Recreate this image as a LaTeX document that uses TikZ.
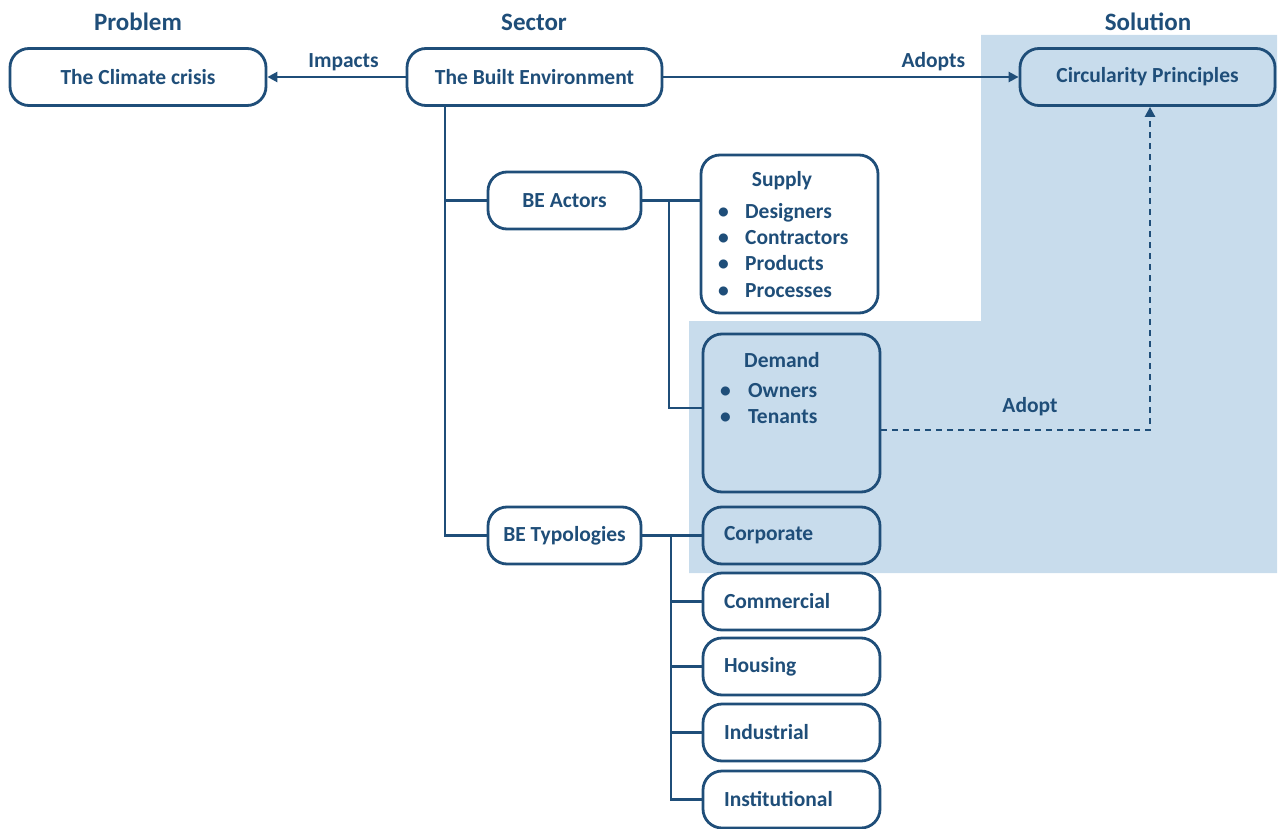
\documentclass[tikz,border=0pt]{standalone}
\usepackage{fontspec}
\setmainfont{Carlito}
\usetikzlibrary{arrows.meta}
\definecolor{navy}{HTML}{1F4E79}
\definecolor{paleblue}{HTML}{C8DCEC}
\begin{document}
\begin{tikzpicture}[x=1pt,y=-1pt,
  every node/.style={text=navy, font=\fontsize{21.5}{25}\selectfont\bfseries},
  box/.style={draw=navy, line width=2.8pt, rounded corners=19pt, inner sep=0pt},
  whitebox/.style={box, fill=white},
  typbox/.style={box, fill=white, text width=135pt, inner xsep=21pt, align=left, minimum height=57pt},
  head/.style={font=\fontsize{25}{29}\selectfont\bfseries},
  link/.style={draw=navy, line width=2.8pt},
  tip/.style={-{Triangle[length=10pt,width=10pt]}},
  dashlink/.style={link, line width=2.6pt, dash pattern=on 6pt off 5pt},
  itemtext/.style={anchor=base west, inner sep=0pt}
]
\useasboundingbox (0,0) rectangle (1284,829);

% shaded solution region
\fill[paleblue] (981,35) -- (1277,35) -- (1277,573) -- (689,573) -- (689,321) -- (981,321) -- cycle;

% column headings
\node[head] (hprob) at (138,22) {Problem};
\node[head] (hsect) at (534,22) {Sector};
\node[head] (hsol) at (1148,22) {Solution};

% top row
\node[whitebox, minimum width=256pt, minimum height=57pt] (cc) at (138,77) {The Climate crisis};
\node[whitebox, minimum width=255pt, minimum height=57pt] (be) at (534.5,77) {The Built Environment};
\node[box, minimum width=255pt, minimum height=57pt] (circ) at (1147.5,77) {Circularity Principles};

% second level
\node[whitebox, minimum width=153pt, minimum height=57pt] (actors) at (564.5,200.5) {BE Actors};
\node[whitebox, minimum width=153pt, minimum height=57pt] (typ) at (564.5,535.5) {BE Typologies};

% supply and demand
\node[whitebox, minimum width=177pt, minimum height=158pt] (supply) at (789.5,234) {};
\node (suptitle) at (782,181) {Supply};
\foreach \t [count=\i] in {Designers,Contractors,Products,Processes}
  \node[itemtext] (sup\i) at (718,192+26.3*\i) {\makebox[27pt][l]{\textbullet}\t};

\node[box, minimum width=177pt, minimum height=158pt] (demand) at (791.5,413) {};
\node (demtitle) at (782,360) {Demand};
\foreach \t [count=\i] in {Owners,Tenants}
  \node[itemtext] (dem\i) at (720,371+26*\i) {\makebox[28pt][l]{\textbullet}\t};

% typologies
\node[typbox, fill=none] (corp) at (791.5,535.5) {Corporate};
\node[typbox] (comm) at (791.5,601.5) {Commercial};
\node[typbox] (hous) at (791.5,666.5) {Housing};
\node[typbox] (indu) at (791.5,732.5) {Industrial};
\node[typbox] (inst) at (791.5,799.5) {Institutional};

% bus lines
\coordinate (trunk) at (445,0);
\coordinate (abus) at (669,0);
\coordinate (tbus) at (671,0);

% connectors
\draw[link, tip] (be.west) -- node[above=5pt, xshift=7pt, inner sep=0pt] (limp) {Impacts} (cc.east);
\draw[link, tip] (be.east) -- node[pos=0.76, above=5pt, inner sep=0pt] (ladopts) {Adopts} (circ.west);

\draw[link] (be.south -| trunk) |- (actors.west);
\draw[link] (be.south -| trunk) |- (typ.west);

\draw[link] (actors.east) -- (actors.east -| supply.west);
\draw[link] (actors.east -| abus) |- ([yshift=5pt]demand.west);

\draw[link] (typ.east) -- (corp.west);
\draw[link] (typ.east -| tbus) |- (comm.west);
\draw[link] (typ.east -| tbus) |- (hous.west);
\draw[link] (typ.east -| tbus) |- (indu.west);
\draw[link] (typ.east -| tbus) |- (inst.west);

\coordinate (dturn) at (1150,430);
\draw[dashlink, tip] ([yshift=-17pt]demand.east) -- (dturn) -- (dturn |- circ.south);
\node (ladopt) at (1030,407) {Adopt};
\end{tikzpicture}
\end{document}
